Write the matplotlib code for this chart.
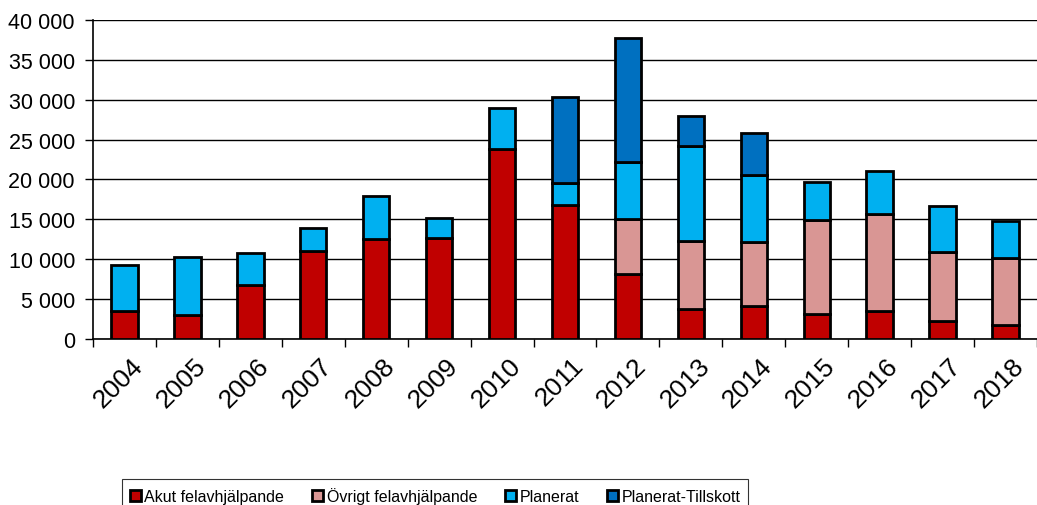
import numpy as np
import matplotlib.pyplot as plt
from matplotlib.ticker import FuncFormatter, FixedLocator

plt.rcParams['font.family'] = ['Liberation Sans', 'DejaVu Sans']

years = ['2004', '2005', '2006', '2007', '2008', '2009', '2010', '2011',
         '2012', '2013', '2014', '2015', '2016', '2017', '2018']
akut = [3470, 3010, 6780, 11000, 12550, 12640, 23850, 16780,
        8160, 3770, 4180, 3140, 3560, 2260, 1800]
ovrigt = [0, 0, 0, 0, 0, 0, 0, 0,
          6900, 8570, 8000, 11800, 12130, 8620, 8370]
planerat = [5860, 7320, 3970, 2930, 5440, 2510, 5100, 2760,
            7120, 11800, 8360, 4720, 5360, 5770, 4600]
tillskott = [0, 0, 0, 0, 0, 0, 0, 10790,
             15560, 3770, 5320, 0, 0, 0, 0]

series = [('Akut felavhjälpande', akut, '#C00000'),
          ('Övrigt felavhjälpande', ovrigt, '#D99694'),
          ('Planerat', planerat, '#00B0F0'),
          ('Planerat-Tillskott', tillskott, '#0070C0')]

fig = plt.figure(figsize=(10.37, 5.06), dpi=100)
ax = fig.add_axes([93/1037, 1-340/506, 1-93/1037, (340-21)/506])

x = np.arange(len(years))
bottom = np.zeros(len(years))
handles = []
for name, vals, col in series:
    vals = np.array(vals, dtype=float)
    # skip zero-height segments so they do not draw a double edge
    h = ax.bar(x[vals > 0], vals[vals > 0], width=0.42, bottom=bottom[vals > 0],
               color=col, edgecolor='black', linewidth=2.0, zorder=3, label=name)
    handles.append(h)
    bottom += vals

ax.set_xlim(-0.5, len(years) - 0.5)
ax.set_ylim(0, 40000)
ax.set_yticks(np.arange(0, 40001, 5000))
ax.yaxis.set_major_formatter(FuncFormatter(lambda v, p: f'{int(v):,}'.replace(',', ' ')))
ax.grid(axis='y', color='black', linewidth=1.0, zorder=0)

ax.set_xticks(x + 0.1)
ax.set_xticklabels(years, rotation=45, ha='right', rotation_mode='anchor', fontsize=19)
ax.xaxis.set_minor_locator(FixedLocator(np.arange(-0.5, len(years), 1)))
ax.tick_params(axis='x', which='major', length=0, pad=10)
ax.tick_params(axis='x', which='minor', length=6, width=1, color='black')
ax.tick_params(axis='y', length=6, width=1, labelsize=15.5, pad=7)

for s in ['top', 'right']:
    ax.spines[s].set_visible(False)
ax.spines['left'].set_linewidth(1.2)
ax.spines['bottom'].set_linewidth(1.2)

leg = fig.legend(handles=handles, loc='upper left', bbox_to_anchor=(122/1037, 1-480/506),
                 ncol=4, fontsize=11.5, frameon=True, fancybox=False, edgecolor='black',
                 handlelength=0.7, handleheight=0.7, handletextpad=0.2,
                 columnspacing=1.75, borderaxespad=0, borderpad=0.5)
leg.get_frame().set_linewidth(0.8)

fig.savefig('out.png', dpi=100)
